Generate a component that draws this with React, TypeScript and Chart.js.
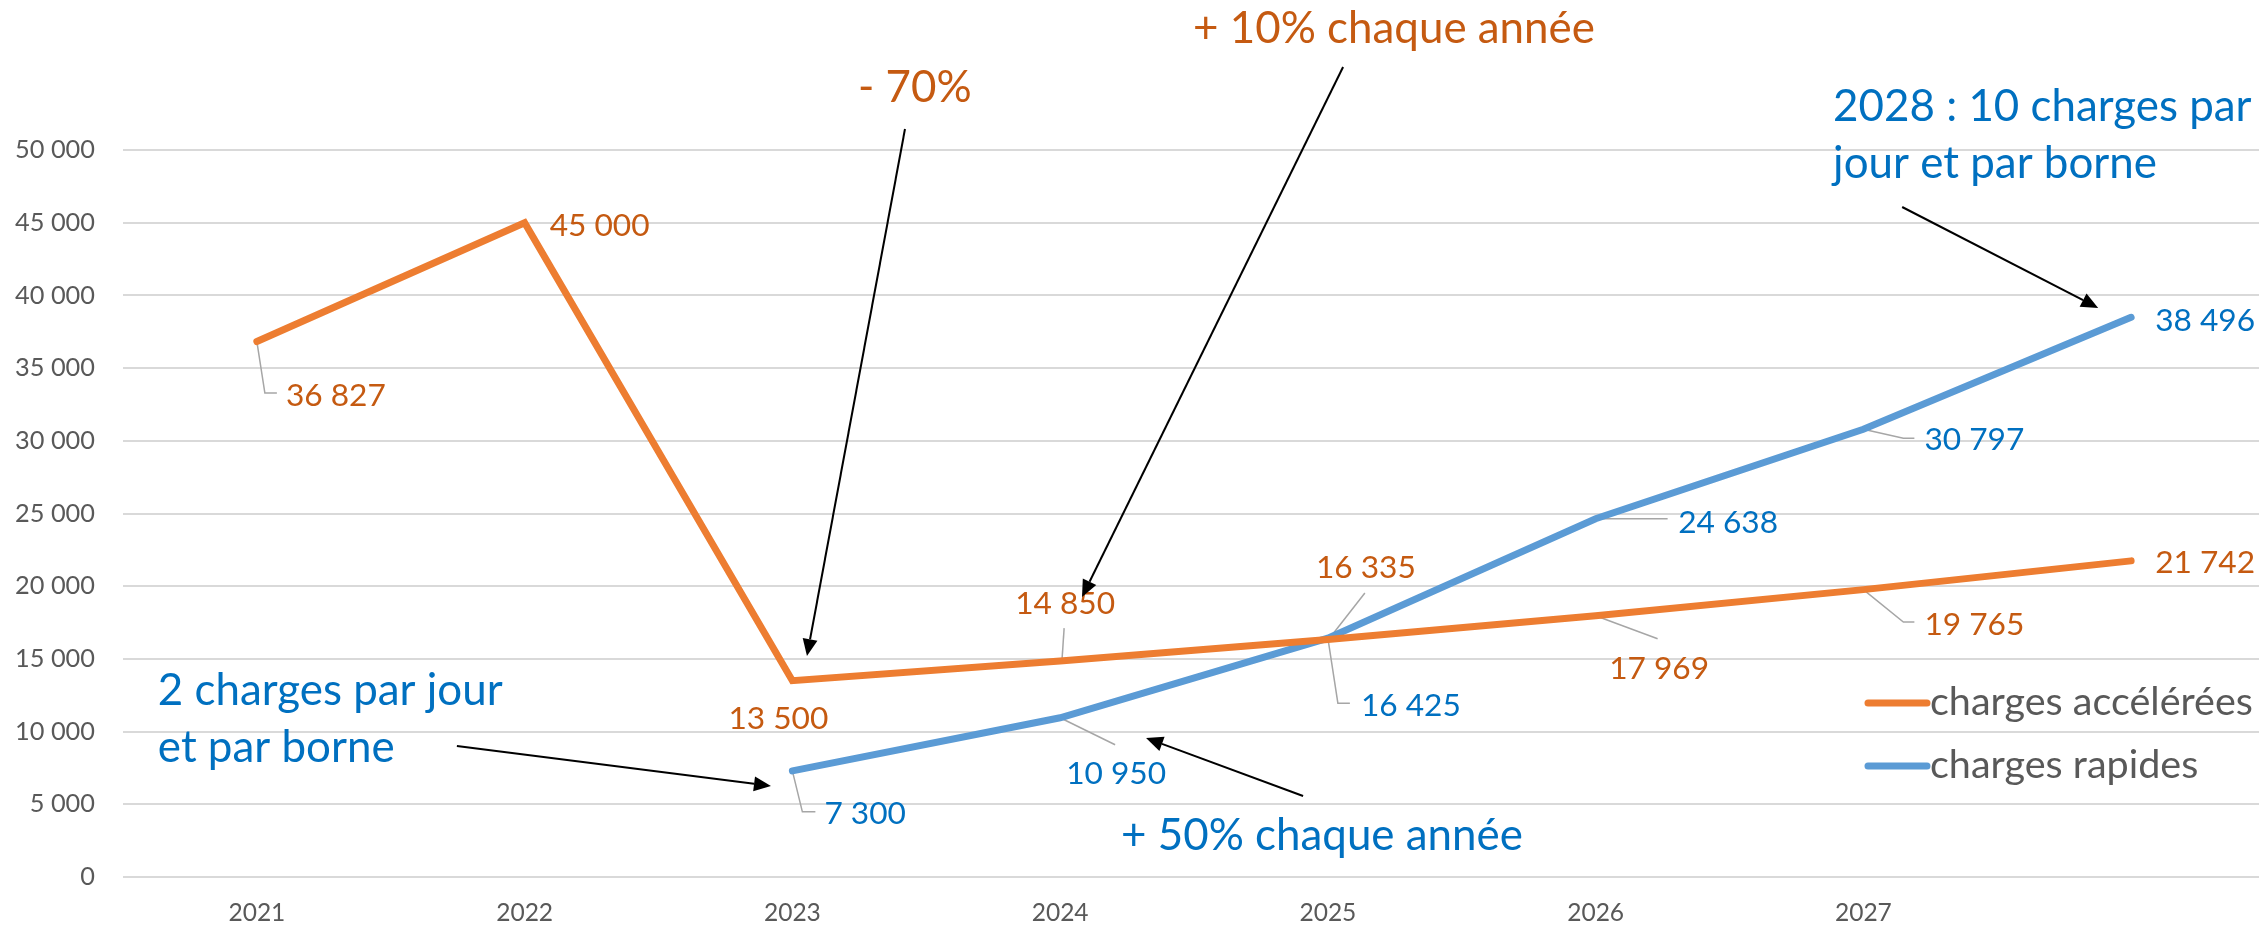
import React, { useEffect, useRef } from 'react';
import { Chart, registerables } from 'chart.js';

Chart.register(...registerables);

// ---------- data ----------
const years = ['2021', '2022', '2023', '2024', '2025', '2026', '2027', ''];
const acceleratedCharges = [36827, 45000, 13500, 14850, 16335, 17969, 19765, 21742];
const rapidCharges = [null, null, 7300, 10950, 16425, 24638, 30797, 38496];
const seriesNames = ['charges accélérées', 'charges rapides'];
const yMin = 0;
const yMax = 50000;
const yStep = 5000;

// ---------- styles ----------
const FONT = 'Lato, "Open Sans", sans-serif';
const ORANGE_LINE = '#ED7D31';
const BLUE_LINE = '#5B9BD5';
const ORANGE_TEXT = '#C55A11';
const BLUE_TEXT = '#0070C0';
const AXIS_TEXT = '#595959';
const GRID = '#D9D9D9';
const LEADER = '#A6A6A6';
const LINE_W = 7;

// label placement (pixel offsets from the data point, text left / baseline)
type LabelPos = { dx: number; dy: number; leader?: number[][] } | null;
const orangeLabelPos: LabelPos[] = [
  { dx: 29, dy: 64.5, leader: [[0, 0], [8, 51.5], [20, 51.5]] },
  { dx: 25, dy: 13 },
  { dx: -64, dy: 48 },
  { dx: -45, dy: -47, leader: [[2, -3], [4, -33]] },
  { dx: -12, dy: -61.5, leader: [[3, -3], [37, -46.5]] },
  { dx: 13.5, dy: 63, leader: [[0, 0], [62, 23]] },
  { dx: 61, dy: 45.4, leader: [[0, 0], [40, 32.4], [51, 32.4]] },
  { dx: 24, dy: 12 },
];
const blueLabelPos: LabelPos[] = [
  null,
  null,
  { dx: 32, dy: 53, leader: [[0, 0], [10, 41], [23, 41]] },
  { dx: 6, dy: 66, leader: [[0, 0], [55, 27]] },
  { dx: 33, dy: 78, leader: [[0, 0], [10, 65], [22, 65]] },
  { dx: 82.5, dy: 14, leader: [[0, 0], [72, 0]] },
  { dx: 61, dy: 21, leader: [[0, 0], [40, 9], [51, 9]] },
  { dx: 24, dy: 14 },
];

// annotations anchored in data space: [category index, value]
const noteTexts = [
  { lines: ['- 70%'], at: [2.245, 53301], color: ORANGE_TEXT },
  { lines: ['+ 10% chaque année'], at: [3.4965, 57359], color: ORANGE_TEXT },
  { lines: ['2 charges par jour', 'et par borne'], at: [-0.3698, 11829], color: BLUE_TEXT },
  { lines: ['+ 50% chaque année'], at: [3.2275, 1857], color: BLUE_TEXT },
  { lines: ['2028 : 10 charges par', 'jour et par borne'], at: [5.887, 51995], color: BLUE_TEXT },
];
const noteArrows = [
  { from: [2.4206, 51444], to: [2.0545, 15200] },
  { from: [4.0568, 55709], to: [3.0818, 19257] },
  { from: [0.7471, 9010], to: [1.92, 6259] },
  { from: [3.9074, 5571], to: [3.3209, 9560] },
  { from: [6.1449, 46080], to: [6.877, 39134] },
];

const fmt = (n: number) => String(Math.round(n)).replace(/\B(?=(\d{3})+(?!\d))/g, ' ');

function fitFont(text: string, target: number): number {
  const c = document.createElement('canvas').getContext('2d') as CanvasRenderingContext2D;
  c.font = `100px ${FONT}`;
  return (100 * target) / c.measureText(text).width;
}

function drawArrow(ctx: CanvasRenderingContext2D, x1: number, y1: number, x2: number, y2: number) {
  const ang = Math.atan2(y2 - y1, x2 - x1);
  const head = 17;
  const half = 7.5;
  const bx = x2 - head * Math.cos(ang);
  const by = y2 - head * Math.sin(ang);
  ctx.save();
  ctx.strokeStyle = '#000';
  ctx.fillStyle = '#000';
  ctx.lineWidth = 2;
  ctx.beginPath();
  ctx.moveTo(x1, y1);
  ctx.lineTo(bx, by);
  ctx.stroke();
  ctx.beginPath();
  ctx.moveTo(x2, y2);
  ctx.lineTo(bx + half * Math.sin(ang), by - half * Math.cos(ang));
  ctx.lineTo(bx - half * Math.sin(ang), by + half * Math.cos(ang));
  ctx.closePath();
  ctx.fill();
  ctx.restore();
}

export default function App() {
  const ref = useRef<HTMLCanvasElement | null>(null);

  useEffect(() => {
    if (!ref.current) return;
    const yTickSize = fitFont('50 000', 80);
    const xTickSize = fitFont('2027', 57);
    const labelSize = fitFont('14 850', 100);
    const noteSize = fitFont('+ 10% chaque année', 402);
    const legendSize = fitFont('charges accélérées', 323);

    const labelPositions = [orangeLabelPos, blueLabelPos];
    const labelColors = [ORANGE_TEXT, BLUE_TEXT];

    const overlay = {
      id: 'overlay',
      beforeDatasetsDraw(chart: any) {
        const ctx = chart.ctx as CanvasRenderingContext2D;
        ctx.save();
        ctx.strokeStyle = LEADER;
        ctx.lineWidth = 1.5;
        chart.data.datasets.forEach((ds: any, d: number) => {
          const meta = chart.getDatasetMeta(d);
          ds.data.forEach((v: number | null, i: number) => {
            const pos = labelPositions[d][i];
            if (v == null || !pos || !pos.leader) return;
            const pt = meta.data[i];
            ctx.beginPath();
            pos.leader.forEach((p, k) => {
              if (k === 0) ctx.moveTo(pt.x + p[0], pt.y + p[1]);
              else ctx.lineTo(pt.x + p[0], pt.y + p[1]);
            });
            ctx.stroke();
          });
        });
        ctx.restore();
      },
      afterDatasetsDraw(chart: any) {
        const ctx = chart.ctx as CanvasRenderingContext2D;
        ctx.save();
        ctx.font = `${labelSize}px ${FONT}`;
        ctx.textAlign = 'left';
        ctx.textBaseline = 'alphabetic';
        chart.data.datasets.forEach((ds: any, d: number) => {
          const meta = chart.getDatasetMeta(d);
          ctx.fillStyle = labelColors[d];
          ds.data.forEach((v: number | null, i: number) => {
            const pos = labelPositions[d][i];
            if (v == null || !pos) return;
            const pt = meta.data[i];
            ctx.fillText(fmt(v), pt.x + pos.dx, pt.y + pos.dy);
          });
        });
        ctx.restore();
      },
      afterDraw(chart: any) {
        const ctx = chart.ctx as CanvasRenderingContext2D;
        const xs = chart.scales.x;
        const ys = chart.scales.y;
        const P = (a: number[]) => [xs.getPixelForValue(a[0]), ys.getPixelForValue(a[1])];
        // annotation texts
        ctx.save();
        ctx.font = `${noteSize}px ${FONT}`;
        ctx.textAlign = 'left';
        ctx.textBaseline = 'alphabetic';
        noteTexts.forEach((n) => {
          const [x, y] = P(n.at);
          ctx.fillStyle = n.color;
          n.lines.forEach((line, k) => ctx.fillText(line, x, y + k * 57));
        });
        ctx.restore();
        noteArrows.forEach((a) => {
          const [x1, y1] = P(a.from);
          const [x2, y2] = P(a.to);
          drawArrow(ctx, x1, y1, x2, y2);
        });
        // legend
        const area = chart.chartArea;
        ctx.save();
        ctx.font = `${legendSize}px ${FONT}`;
        ctx.textAlign = 'left';
        ctx.textBaseline = 'alphabetic';
        chart.data.datasets.forEach((ds: any, d: number) => {
          const y = area.bottom - 174 + d * 63;
          const x0 = area.right - 397;
          ctx.strokeStyle = ds.borderColor;
          ctx.lineWidth = LINE_W;
          ctx.lineCap = 'round';
          ctx.beginPath();
          ctx.moveTo(x0, y);
          ctx.lineTo(x0 + 59, y);
          ctx.stroke();
          ctx.fillStyle = AXIS_TEXT;
          ctx.fillText(ds.label, x0 + 62, y + 12);
        });
        ctx.restore();
      },
    };

    const chart = new Chart(ref.current, {
      type: 'line',
      data: {
        labels: years,
        datasets: [
          {
            label: seriesNames[0],
            data: acceleratedCharges,
            borderColor: ORANGE_LINE,
            backgroundColor: ORANGE_LINE,
            borderWidth: LINE_W,
            borderCapStyle: 'round',
            borderJoinStyle: 'miter',
            pointRadius: 0,
            tension: 0,
            fill: false,
          },
          {
            label: seriesNames[1],
            data: rapidCharges,
            borderColor: BLUE_LINE,
            backgroundColor: BLUE_LINE,
            borderWidth: LINE_W,
            borderCapStyle: 'round',
            borderJoinStyle: 'miter',
            pointRadius: 0,
            tension: 0,
            fill: false,
            spanGaps: false,
          },
        ],
      } as any,
      options: {
        responsive: false,
        animation: false,
        devicePixelRatio: 1,
        layout: { padding: { top: 150, right: 1, left: 0, bottom: 0 } },
        plugins: {
          legend: { display: false },
          tooltip: { enabled: false },
          title: { display: false },
        },
        scales: {
          x: {
            type: 'category',
            offset: true,
            grid: { display: false, drawTicks: false },
            border: { display: false },
            ticks: {
              color: AXIS_TEXT,
              font: { family: FONT, size: xTickSize },
              padding: 21,
              maxRotation: 0,
              autoSkip: false,
            },
            afterFit: (s: any) => {
              s.height = 52;
            },
          },
          y: {
            min: yMin,
            max: yMax,
            grid: { color: GRID, lineWidth: 2, drawTicks: false },
            border: { display: false },
            ticks: {
              stepSize: yStep,
              padding: 28,
              color: AXIS_TEXT,
              font: { family: FONT, size: yTickSize },
              callback: (v: any) => fmt(Number(v)),
            },
            afterFit: (s: any) => {
              s.width = 123;
            },
          },
        },
      } as any,
      plugins: [overlay],
    });
    return () => chart.destroy();
  }, []);

  return (
    <div
      style={{
        position: 'fixed',
        left: 0,
        top: 0,
        width: 2259,
        height: 929,
        overflow: 'hidden',
        background: '#fff',
      }}
    >
      <canvas ref={ref} width={2266} height={929} style={{ display: 'block', width: 2266, height: 929 }} />
    </div>
  );
}
